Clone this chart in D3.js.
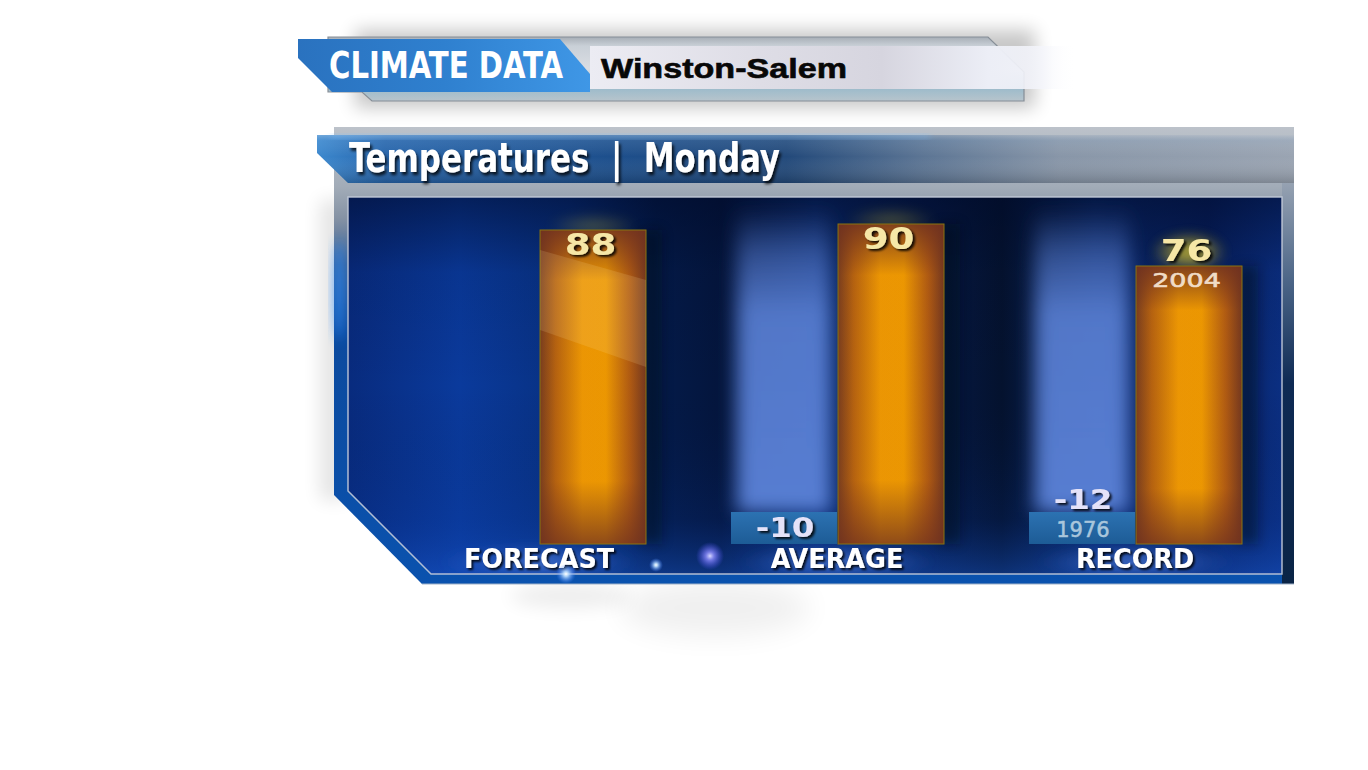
<!DOCTYPE html>
<html><head><meta charset="utf-8">
<script src="https://cdn.jsdelivr.net/npm/d3@7"></script>
<style>html,body{margin:0;padding:0;background:#fff;overflow:hidden}</style>
</head><body>
<svg id="c" width="1368" height="770"></svg>
<script>
// ---------------- data ----------------
const categories = ["FORECAST", "AVERAGE", "RECORD"];
const highValues = [88, 90, 76];
const lowValues = [null, -10, -12];
const highYears = [null, null, "2004"];
const lowYears = [null, null, "1976"];
const headerTag = "CLIMATE DATA";
const locationName = "Winston-Salem";
const panelTitle = "Temperatures  |  Monday";

// ---------------- setup ----------------
const svg = d3.select("#c");
const defs = svg.append("defs");
svg.append("rect").attr("width", 1368).attr("height", 770).attr("fill", "#ffffff");

function lin(id, attrs, stops) {
  const g = defs.append("linearGradient").attr("id", id);
  Object.entries(attrs).forEach(([k, v]) => g.attr(k, v));
  stops.forEach(([o, c, op]) => g.append("stop").attr("offset", o).attr("stop-color", c).attr("stop-opacity", op == null ? 1 : op));
}
function rad(id, stops) {
  const g = defs.append("radialGradient").attr("id", id);
  stops.forEach(([o, c, op]) => g.append("stop").attr("offset", o).attr("stop-color", c).attr("stop-opacity", op == null ? 1 : op));
}
function blur(id, sd) {
  defs.append("filter").attr("id", id).attr("x", "-60%").attr("y", "-60%").attr("width", "220%").attr("height", "220%")
    .append("feGaussianBlur").attr("stdDeviation", sd);
}
function shadow(id, dx, dy, sd, op) {
  defs.append("filter").attr("id", id).attr("x", "-20%").attr("y", "-30%").attr("width", "140%").attr("height", "170%")
    .append("feDropShadow").attr("dx", dx).attr("dy", dy).attr("stdDeviation", sd)
    .attr("flood-color", "#000").attr("flood-opacity", op);
}
blur("b3", 3); blur("b6", 6); blur("b9", 9); blur("b14", 14);
shadow("tsh", 2, 2, 1, 0.85);
shadow("tsh2", 2, 3, 1.4, 0.8);

// gradients
lin("plateG", {x1: 0, y1: 37, x2: 0, y2: 101, gradientUnits: "userSpaceOnUse"},
  [[0, "#a7aeb6"], [0.14, "#c9d0d7"], [0.5, "#dadde3"], [0.82, "#9fbccb"], [1, "#b7c4cc"]]);
lin("whiteG", {x1: 590, y1: 0, x2: 1076, y2: 0, gradientUnits: "userSpaceOnUse"},
  [[0, "#ececf3"], [0.35, "#dedde6"], [0.6, "#d6d5df"], [0.82, "#eceef6"], [0.93, "#f4f5fb", 0.85], [1, "#ffffff", 0]]);
lin("tagG", {x1: 298, y1: 0, x2: 590, y2: 0, gradientUnits: "userSpaceOnUse"},
  [[0, "#2a72bf"], [0.5, "#2f80cf"], [1, "#3f97e6"]]);
lin("outerG", {x1: 0, y1: 127, x2: 0, y2: 584, gradientUnits: "userSpaceOnUse"},
  [[0, "#bcc2ca"], [0.13, "#a2acb8"], [0.2, "#8592a4"], [0.3, "#3a6296"], [0.45, "#0c4a9e"], [1, "#0a52ae"]]);
lin("rightStripG", {x1: 0, y1: 183, x2: 0, y2: 584, gradientUnits: "userSpaceOnUse"},
  [[0, "#96a2b2"], [0.25, "#4a6486"], [0.5, "#0e2a54"], [1, "#0a2446"]]);
lin("titleG", {x1: 317, y1: 0, x2: 1294, y2: 0, gradientUnits: "userSpaceOnUse"},
  [[0, "#3c88ce"], [0.07, "#2765ab"], [0.3, "#1d4f8c"], [0.48, "#22497a"], [0.62, "#5c7594"], [0.76, "#8896a8"], [1, "#9aa4b2"]]);
lin("titleGloss", {x1: 0, y1: 135, x2: 0, y2: 183, gradientUnits: "userSpaceOnUse"},
  [[0, "#ffffff", 0.28], [0.12, "#bfe0ff", 0.12], [0.45, "#ffffff", 0], [1, "#000000", 0.18]]);
lin("innerG", {x1: 348, y1: 0, x2: 1282, y2: 0, gradientUnits: "userSpaceOnUse"},
  [[0, "#082b7e"], [0.12, "#0a3a9c"], [0.24, "#08307f"], [0.33, "#041b4a"], [0.4, "#04153c"], [0.5, "#0a2a6e"],
   [0.62, "#061a48"], [0.7, "#04122e"], [0.8, "#0a2868"], [0.92, "#071f5e"], [1, "#0b2f82"]]);
lin("innerV", {x1: 0, y1: 197, x2: 0, y2: 575, gradientUnits: "userSpaceOnUse"},
  [[0, "#000a28", 0.55], [0.2, "#000a28", 0.1], [0.5, "#000a28", 0], [0.85, "#0a3aa0", 0.15], [1, "#1a5ad0", 0.45]]);
lin("ghostG", {x1: 0, y1: 0, x2: 0, y2: 1},
  [[0, "#5a80d4", 0], [0.15, "#5a80d4", 0.5], [0.35, "#5a80d4", 0.9], [1, "#5b82d8", 0.95]]);
lin("barH", {x1: 0, y1: 0, x2: 1, y2: 0},
  [[0, "#7a3e1e"], [0.15, "#b9650f"], [0.4, "#f29b02"], [0.62, "#f29c00"], [0.85, "#b25c12"], [1, "#74381f"]]);
lin("barV", {x1: 0, y1: 0, x2: 0, y2: 1},
  [[0, "#6e3020", 0.85], [0.16, "#6e3020", 0.05], [0.8, "#6e3020", 0.05], [1, "#6e3020", 0.75]]);
lin("boxG", {x1: 0, y1: 0, x2: 0, y2: 1},
  [[0, "#2c72b2"], [1, "#1d5c96"]]);
rad("sparkW", [[0, "#ffffff"], [0.25, "#bfe0ff", 0.9], [1, "#3a7cff", 0]]);
rad("sparkP", [[0, "#d8d8ff"], [0.3, "#8c8cff", 0.8], [1, "#5050ff", 0]]);
rad("labGlow", [[0, "#5a86e0", 0.75], [1, "#3a6ad0", 0]]);
rad("yGlow", [[0, "#f0dc30", 0.95], [0.5, "#d8c020", 0.6], [1, "#c0b020", 0]]);

// ---------------- header ----------------
const header = svg.append("g");
header.append("rect").attr("x", 355).attr("y", 30).attr("width", 680).attr("height", 78)
  .attr("fill", "#000").attr("opacity", 0.22).attr("filter", "url(#b9)");
header.append("path").attr("d", "M328,37 L988,37 L1024,72 L1024,101 L372,101 L362,92 L328,92 Z")
  .attr("fill", "url(#plateG)").attr("stroke", "#868e97").attr("stroke-width", 1.2);
header.append("rect").attr("x", 590).attr("y", 46).attr("width", 486).attr("height", 43).attr("fill", "url(#whiteG)");
header.append("path").attr("d", "M298,39 L560,39 L590,74 L590,92 L332,92 L298,58 Z").attr("fill", "url(#tagG)");
header.append("text").attr("x", 329).attr("y", 78)
  .attr("font-family", "'Liberation Sans Narrow','DejaVu Sans Condensed','Liberation Sans',sans-serif")
  .attr("font-stretch", "condensed").attr("font-weight", "bold").attr("font-size", 37)
  .attr("textLength", 234).attr("lengthAdjust", "spacingAndGlyphs")
  .attr("fill", "#ffffff").text(headerTag);
header.append("text").attr("x", 601).attr("y", 78)
  .attr("font-family", "'Liberation Sans',Arial,sans-serif").attr("font-weight", "bold").attr("font-size", 28)
  .attr("textLength", 246).attr("lengthAdjust", "spacingAndGlyphs")
  .attr("fill", "#080808").attr("stroke", "#080808").attr("stroke-width", 0.6).text(locationName);

// ---------------- panel frame ----------------
const frame = svg.append("g");
frame.append("ellipse").attr("cx", 570).attr("cy", 596).attr("rx", 60).attr("ry", 12).attr("fill", "#000").attr("opacity", 0.07).attr("filter", "url(#b9)");
frame.append("ellipse").attr("cx", 715).attr("cy", 608).attr("rx", 95).attr("ry", 28).attr("fill", "#000").attr("opacity", 0.06).attr("filter", "url(#b14)");
frame.append("rect").attr("x", 320).attr("y", 200).attr("width", 28).attr("height", 300).attr("fill", "#000").attr("opacity", 0.1).attr("filter", "url(#b9)");
frame.append("path").attr("d", "M334,127 L1294,127 L1294,584 L422,584 L334,495 Z").attr("fill", "url(#outerG)");
frame.append("rect").attr("x", 1282).attr("y", 183).attr("width", 12).attr("height", 401).attr("fill", "url(#rightStripG)");
frame.append("ellipse").attr("cx", 339).attr("cy", 290).attr("rx", 5).attr("ry", 50).attr("fill", "#2a8cff").attr("opacity", 0.75).attr("filter", "url(#b6)");
frame.append("path").attr("d", "M422,584 L1294,584").attr("stroke", "#9fb2c8").attr("stroke-width", 1.2);

// title bar
frame.append("path").attr("d", "M317,135 L1294,135 L1294,183 L348,183 L317,153 Z").attr("fill", "url(#titleG)");
frame.append("path").attr("d", "M317,135 L1294,135 L1294,183 L348,183 L317,153 Z").attr("fill", "url(#titleGloss)");
frame.append("rect").attr("x", 330).attr("y", 135).attr("width", 600).attr("height", 3).attr("fill", "#7cc0ff").attr("opacity", 0.55).attr("filter", "url(#b3)");
frame.append("text").attr("x", 349).attr("y", 172)
  .attr("font-family", "'Liberation Sans Narrow','DejaVu Sans Condensed','Liberation Sans',sans-serif")
  .attr("font-stretch", "condensed").attr("font-weight", "bold").attr("font-size", 40)
  .attr("textLength", 431).attr("lengthAdjust", "spacingAndGlyphs").style("white-space", "pre")
  .attr("fill", "#ffffff").attr("filter", "url(#tsh2)").text(panelTitle);

// ---------------- inner plot area ----------------
const innerPath = "M348,197 L1282,197 L1282,574 L431,574 L348,491 Z";
defs.append("clipPath").attr("id", "innerClip").append("path").attr("d", innerPath);
const inner = svg.append("g").attr("clip-path", "url(#innerClip)");
inner.append("path").attr("d", innerPath).attr("fill", "url(#innerG)");
inner.append("path").attr("d", innerPath).attr("fill", "url(#innerV)");

// scales
const x = d3.scaleBand().domain(categories).range([390, 1284]);
const sub = d3.scaleBand().domain(["low", "high"]).range([-106, 107]).paddingInner(0.01);
const y = d3.scaleLinear().domain([-50 / 3, 100]).range([544, 194]);
const baseY = y(-50 / 3);
const boxH = 32;

const rows = categories.map((c, i) => ({
  cat: c, hi: highValues[i], lo: lowValues[i], hiYear: highYears[i], loYear: lowYears[i],
  cx: x(c) + x.bandwidth() / 2
}));

// ghost low columns
inner.selectAll("rect.ghost").data(rows.filter(d => d.lo != null)).join("rect")
  .attr("class", "ghost")
  .attr("x", d => d.cx + sub("low") + 6).attr("width", sub.bandwidth() - 12)
  .attr("y", y(100) + 14).attr("height", d => baseY - boxH - (y(100) + 14))
  .attr("fill", "url(#ghostG)").attr("filter", "url(#b9)");

// label glows at bottom
inner.selectAll("ellipse.lg").data(rows).join("ellipse").attr("class", "lg")
  .attr("cx", d => d.cx).attr("cy", 562).attr("rx", 100).attr("ry", 16)
  .attr("fill", "url(#labGlow)").attr("filter", "url(#b6)");

// glow above high bars
inner.selectAll("ellipse.yg").data(rows).join("ellipse").attr("class", "yg")
  .attr("cx", d => d.cx + sub("high") + sub.bandwidth() / 2)
  .attr("cy", d => d.hiYear ? y(d.hi) - 14 : y(d.hi) - 4)
  .attr("rx", d => d.hiYear ? 38 : 46).attr("ry", d => d.hiYear ? 20 : 12)
  .attr("opacity", d => d.hiYear ? 0.85 : 0.3)
  .attr("fill", "url(#yGlow)").attr("filter", "url(#b6)");

// dark shade beside high bars
inner.selectAll("rect.shade").data(rows).join("rect").attr("class", "shade")
  .attr("x", d => d.cx + sub("high") + sub.bandwidth() - 6).attr("width", 22)
  .attr("y", d => y(d.hi)).attr("height", d => baseY - y(d.hi))
  .attr("fill", "#000814").attr("opacity", 0.45).attr("filter", "url(#b6)");

// inner border
svg.append("path").attr("d", innerPath).attr("fill", "none").attr("stroke", "#c3cbd9").attr("stroke-width", 1.5).attr("opacity", 0.9);

// ---------------- bars ----------------
const bars = svg.append("g");
const hiG = bars.selectAll("g.hi").data(rows).join("g").attr("class", "hi");
hiG.append("rect")
  .attr("x", d => d.cx + sub("high")).attr("width", sub.bandwidth())
  .attr("y", d => y(d.hi)).attr("height", d => baseY - y(d.hi))
  .attr("fill", "url(#barH)");
hiG.append("rect")
  .attr("x", d => d.cx + sub("high")).attr("width", sub.bandwidth())
  .attr("y", d => y(d.hi)).attr("height", d => baseY - y(d.hi))
  .attr("fill", "url(#barV)").attr("stroke", "#8a7410").attr("stroke-width", 1);
// gloss reflection on first bar
hiG.filter((d, i) => i === 0).append("path")
  .attr("d", d => {
    const x0 = d.cx + sub("high"), x1 = x0 + sub.bandwidth(), t = y(d.hi);
    return `M${x0},${t + 20} L${x1},${t + 50} L${x1},${t + 137} L${x0},${t + 100} Z`;
  })
  .attr("fill", "#ffe2a0").attr("opacity", 0.15);

// low boxes
bars.selectAll("rect.lo").data(rows.filter(d => d.lo != null)).join("rect").attr("class", "lo")
  .attr("x", d => d.cx + sub("low")).attr("width", sub.bandwidth())
  .attr("y", baseY - boxH).attr("height", boxH)
  .attr("fill", "url(#boxG)");

// ---------------- labels ----------------
const labels = svg.append("g");
function stretchText(px, py, txt, size, weight, sx, fill, filt, strokeW) {
  const g = labels.append("g").attr("transform", `translate(${px},${py}) scale(${sx},1)`);
  g.append("text").attr("text-anchor", "middle")
    .attr("font-family", "'DejaVu Sans',Verdana,sans-serif")
    .attr("font-size", size).attr("font-weight", weight).attr("fill", fill)
    .attr("stroke", strokeW ? fill : null).attr("stroke-width", strokeW || null)
    .attr("filter", filt ? "url(#tsh)" : null).text(txt);
}
rows.forEach(d => {
  const hx = d.cx + sub("high") + sub.bandwidth() / 2 - 2.5;
  if (d.hiYear) {
    stretchText(hx, y(d.hi) - 5, d.hi, 30, "bold", 1.24, "#f6e7a6", true);
    stretchText(hx, y(d.hi) + 21, d.hiYear, 20, "normal", 1.35, "#f0dcc6", false, 0.6);
  } else {
    stretchText(hx, y(d.hi) + 25, d.hi, 30, "bold", 1.24, "#f6e7a6", true);
  }
  if (d.lo != null) {
    const lx = d.cx + sub("low") + sub.bandwidth() / 2 + 1;
    if (d.loYear) {
      stretchText(lx, baseY - boxH - 3, d.lo, 27, "bold", 1.2, "#e4e2f8", true);
      stretchText(lx, baseY - 7, d.loYear, 21, "normal", 1.0, "#a9c6dc", false, 0.5);
    } else {
      stretchText(lx, baseY - 7, d.lo, 27, "bold", 1.2, "#e4e2f8", true);
    }
  }
  stretchText(d.cx, 568, d.cat, 26, "bold", 0.98, "#ffffff", true);
});

// ---------------- sparkles ----------------
const sp = svg.append("g");
[[566, 574, 10, "sparkW"], [656, 565, 7, "sparkW"], [710, 556, 14, "sparkP"]].forEach(([cx, cy, r, g]) => {
  sp.append("circle").attr("cx", cx).attr("cy", cy).attr("r", r).attr("fill", `url(#${g})`);
});
</script>
</body></html>
